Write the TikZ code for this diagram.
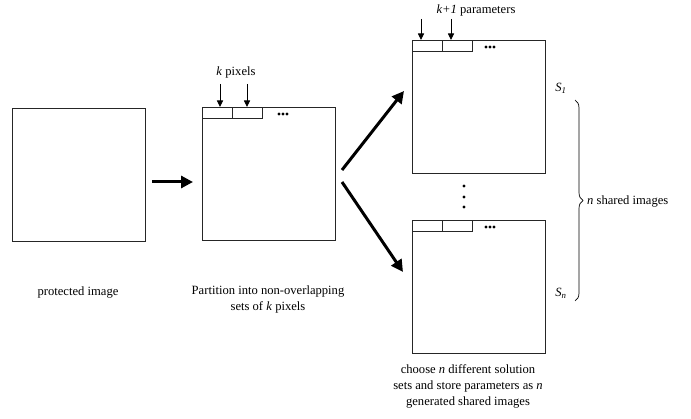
\documentclass[tikz,border=0pt]{standalone}
\usepackage{fontspec}
\setmainfont{Liberation Serif}
\usetikzlibrary{arrows.meta,decorations.pathreplacing}
\begin{document}
\begin{tikzpicture}[x=1pt,y=-1pt,
  imgbox/.style={draw=black!85,line width=0.9pt,minimum width=133pt,minimum height=133pt,inner sep=0,anchor=north west},
  cell/.style={draw=black!85,line width=0.9pt,minimum width=30pt,minimum height=11pt,inner sep=0,anchor=north west},
  bigarrow/.style={line width=3pt,-{Triangle[length=12pt,width=12pt]}},
  smallarrow/.style={line width=0.9pt,-{Triangle[length=6.5pt,width=6pt]}},
  lbl/.style={font=\fontsize{12.6}{16}\selectfont,align=center,inner sep=0},
  dot/.style={circle,fill=black,inner sep=0,minimum size=3.4pt}
]
\useasboundingbox (0,0) rectangle (691,419);

% boxes
\node[imgbox] (b1) at (12,108) {};
\node[imgbox] (b2) at (202,107) {};
\node[imgbox] (b3) at (412,40) {};
\node[imgbox] (b4) at (412,220) {};

% cells
\node[cell] (c21) at (202,107) {};
\node[cell] (c22) at (232,107) {};
\node[cell] (c31) at (412,40) {};
\node[cell] (c32) at (442,40) {};
\node[cell] (c41) at (412,220) {};
\node[cell] (c42) at (442,220) {};

% ellipsis dots in strips
\foreach \n/\y in {2/114,3/47,4/227}{
  \pgfmathsetmacro\xo{\n==2 ? 279 : 486}
  \node[dot] (d\n a) at (\xo,\y) {};
  \node[dot] (d\n b) at (\xo+4,\y) {};
  \node[dot] (d\n c) at (\xo+8,\y) {};
}

% vertical dots
\node[dot] (v1) at (464,186) {};
\node[dot] (v2) at (464,197) {};
\node[dot] (v3) at (464,207) {};

% labels above
\node[lbl] (kpix) at (236,72) {\textit{k} pixels};
\node[lbl] (kpar) at (476,10) {\textit{k+1} parameters};
\coordinate (ka1) at (220,84);
\coordinate (ka2) at (247,84);
\coordinate (pa1) at (421,19);
\coordinate (pa2) at (451,19);
\draw[smallarrow] (ka1) -- (ka1 |- c21.north);
\draw[smallarrow] (ka2) -- (ka2 |- c22.north);
\draw[smallarrow] (pa1) -- (pa1 |- c31.north);
\draw[smallarrow] (pa2) -- (pa2 |- c32.north);

% big arrows
\coordinate (a1s) at (152,182);
\coordinate (a1e) at (193,182);
\draw[bigarrow] (a1s) -- (a1e);
\coordinate (a2s) at (342,170);
\coordinate (a2e) at (404,91);
\draw[bigarrow] (a2s) -- (a2e);
\coordinate (a3s) at (342,182);
\coordinate (a3e) at (403,272);
\draw[bigarrow] (a3s) -- (a3e);

% S labels and brace
\node[lbl] (s1) at (561,88) {\textit{S}\textsubscript{\textit{1}}};
\node[lbl] (sn) at (561,293) {\textit{S}\textsubscript{\textit{n}}};
\coordinate (brt) at (575,100);
\coordinate (brb) at (575,301);
\draw[line width=0.7pt,decorate,decoration={brace,amplitude=8pt}] (brt) -- (brb);
\node[lbl,anchor=west] (nsh) at (587,201) {\textit{n} shared images};

% bottom labels
\node[lbl] (t1) at (78,292) {protected image};
\node[lbl] (t2) at (268,299.5) {Partition into non-overlapping\\sets of \textit{k} pixels};
\node[lbl] (t3) at (468,386) {choose \textit{n} different solution\\sets and store parameters as \textit{n}\\generated shared images};
\end{tikzpicture}
\end{document}
